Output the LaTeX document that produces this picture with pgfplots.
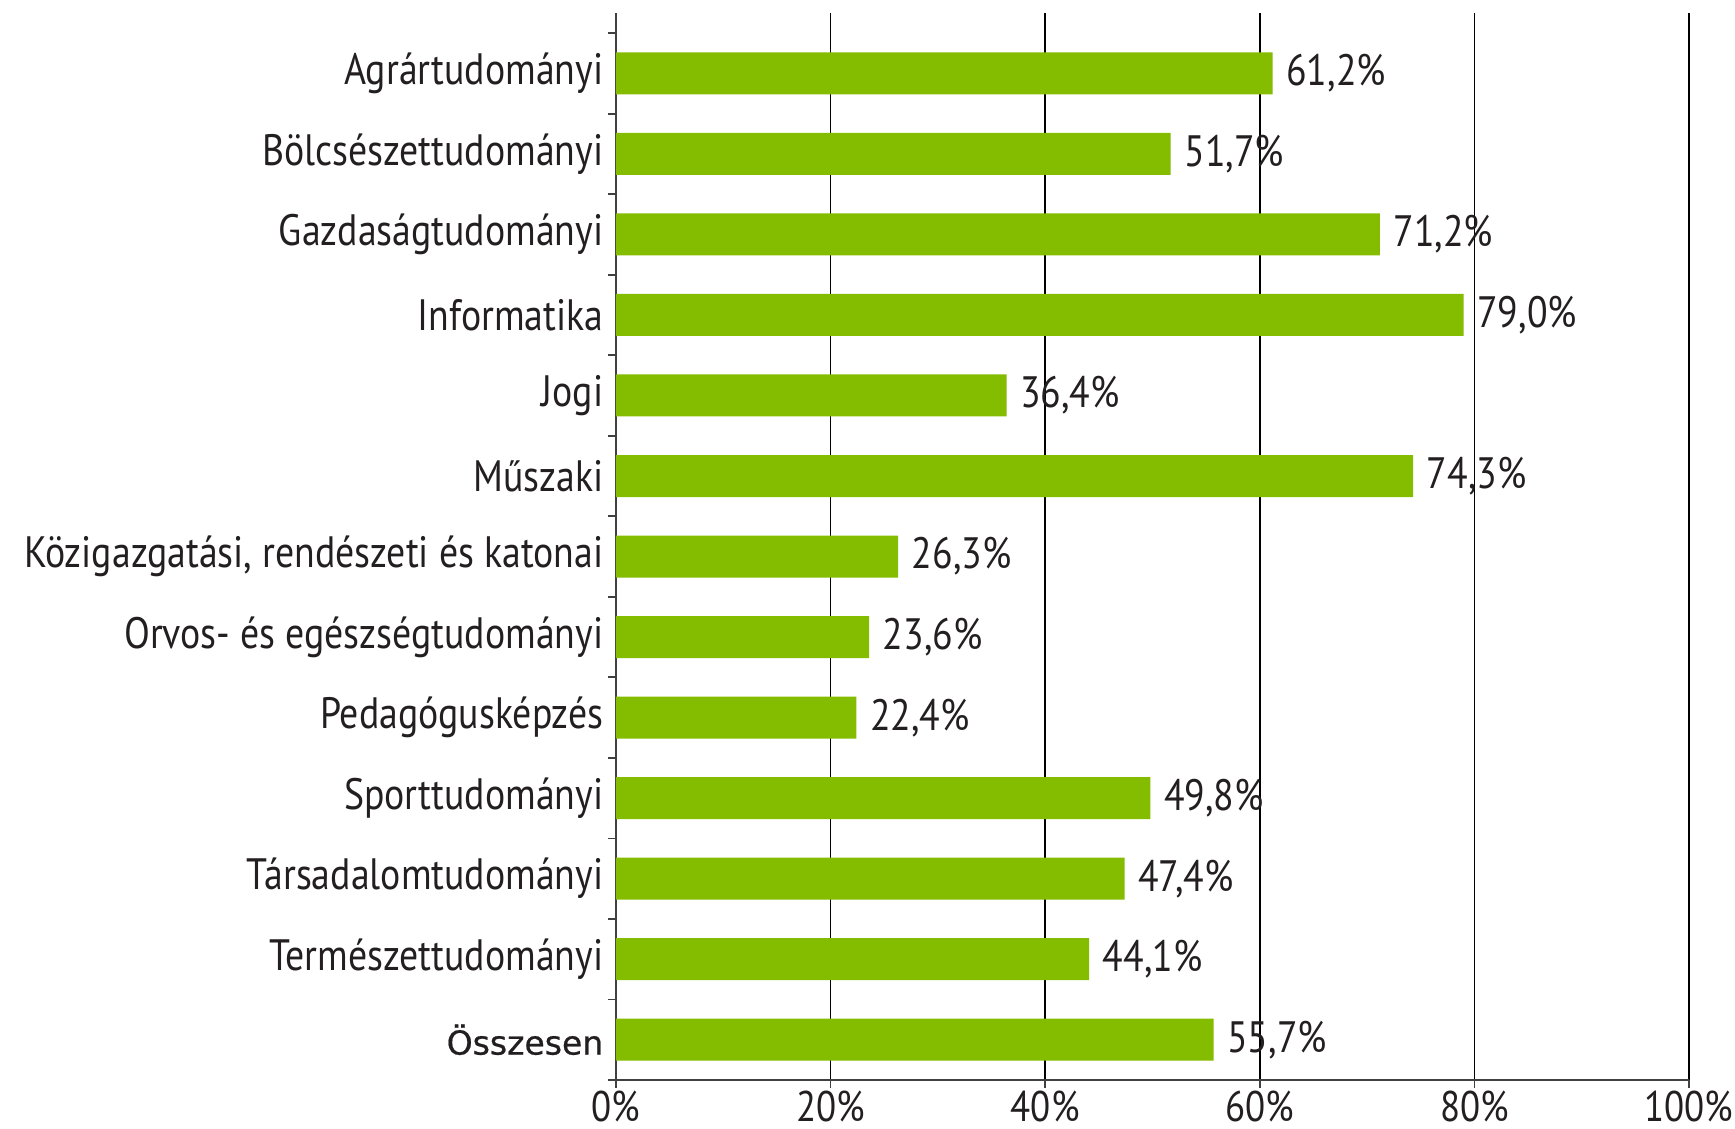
\documentclass[border=0pt]{standalone}
\usepackage{pgfplots}
\pgfplotsset{compat=1.18}
\usepackage{fontspec}
\setmainfont{PT Sans}[FakeStretch=0.86]
\newfontfamily\totfont{DejaVu Sans}[FakeBold=0.6]
\definecolor{barg}{RGB}{132,188,0}
\definecolor{txt}{RGB}{35,31,32}
\definecolor{axg}{RGB}{64,64,64}
\newcommand{\lf}{\fontsize{12.5}{15}\selectfont}
\begin{document}
\begin{tikzpicture}[x=1mm,y=1mm]
\useasboundingbox (-61.6,-4.9) rectangle (111.9,108);
\begin{axis}[
  at={(0,0)}, anchor=south west,
  scale only axis, width=107.3mm, height=106.7mm,
  xmin=0, xmax=100, ymin=-0.5, ymax=12.75,
  xbar, bar width=4.2mm,
  axis x line*=bottom, axis y line*=left,
  axis line style={draw=axg, line width=0.5pt},
  /pgf/number format/assume math mode=true,
  tick align=outside,
  major tick length=0.8mm, minor tick length=0.8mm,
  xtick={0,20,...,100},
  xticklabel={\pgfmathprintnumber{\tick}\%},
  xticklabel style={font=\fontsize{12.2}{14}\selectfont, text=txt, inner sep=0pt, yshift=-0.2mm},
  xmajorgrids, major x grid style={black, line width=0.5pt},
  x tick style={draw=axg, line width=0.5pt},
  ytick={0,...,12},
  every major y tick/.append style={draw=none},
  minor ytick={-0.5,0.5,...,12.5},
  every minor y tick/.append style={draw=axg, line width=0.5pt},
  yticklabels={{\totfont\fontsize{9.4}{11}\selectfont Összesen},Természettudományi,Társadalomtudományi,Sporttudományi,Pedagógusképzés,Orvos- és egészségtudományi,{Közigazgatási, rendészeti és katonai},Műszaki,Jogi,Informatika,Gazdaságtudományi,Bölcsészettudományi,Agrártudományi},
  yticklabel style={font=\lf, text=txt, inner sep=0pt, xshift=-0.4mm},
  point meta=explicit symbolic,
  nodes near coords,
  every node near coord/.append style={anchor=west, inner sep=0pt, xshift=1.3mm, font=\lf, text=txt},
]
\addplot[fill=barg, draw=none] coordinates {
  (55.7,0) [55,7\%]
  (44.1,1) [44,1\%]
  (47.4,2) [47,4\%]
  (49.8,3) [49,8\%]
  (22.4,4) [22,4\%]
  (23.6,5) [23,6\%]
  (26.3,6) [26,3\%]
  (74.3,7) [74,3\%]
  (36.4,8) [36,4\%]
  (79.0,9) [79,0\%]
  (71.2,10) [71,2\%]
  (51.7,11) [51,7\%]
  (61.2,12) [61,2\%]
};
\end{axis}
\end{tikzpicture}
\end{document}
